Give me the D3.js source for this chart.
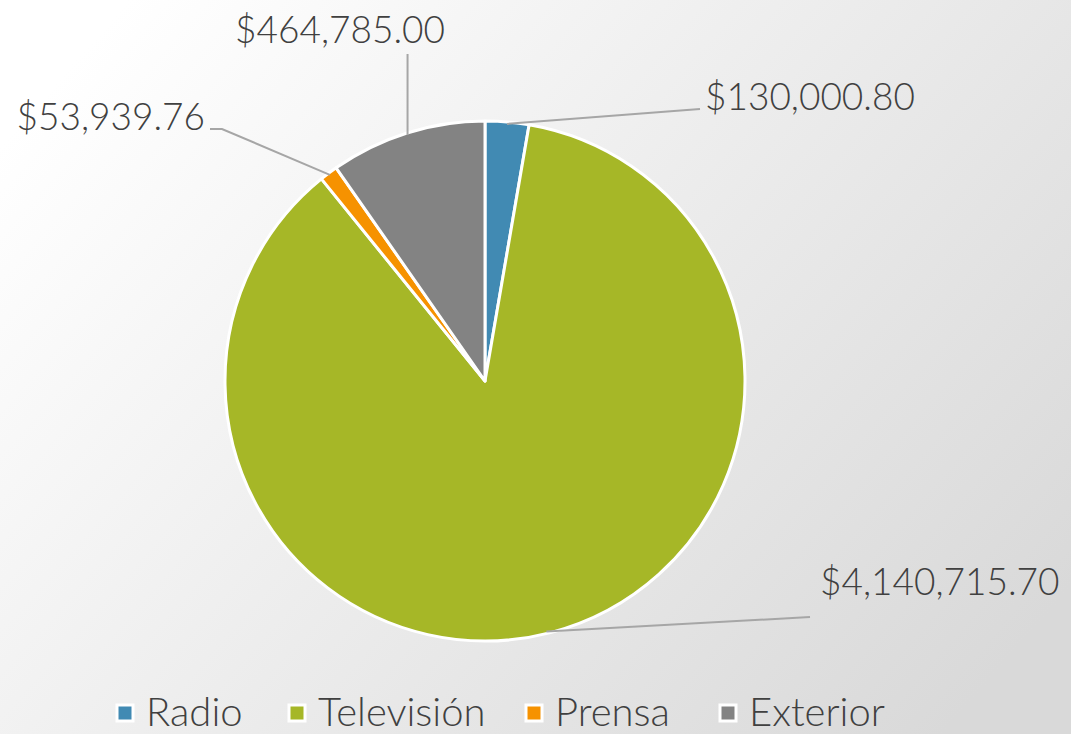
<!DOCTYPE html>
<html>
<head>
<meta charset="utf-8">
<script src="https://cdn.jsdelivr.net/npm/d3@7"></script>
<style>
  html, body { margin: 0; padding: 0; overflow: hidden; }
  body { width: 1071px; height: 734px; }
  text { font-family: "Lato", "Liberation Sans", sans-serif; font-weight: 300; fill: #404040; }
</style>
</head>
<body>
<script>
//data
var categories = ["Radio", "Televisión", "Prensa", "Exterior"];
var values = [130000.80, 4140715.70, 53939.76, 464785.00];
var labels = ["$130,000.80", "$4,140,715.70", "$53,939.76", "$464,785.00"];
var colors = ["#418AB3", "#A6B727", "#F69200", "#838383"];

window.onload = drawChart();

function drawChart(){

    var width = 1071;
    var height = 734;
    var cx = 485, cy = 381, radius = 260;

    var svg = d3.select("body")
        .append("svg")
        .attr("width", width)
        .attr("height", height);

    //background gradient, white on the left to light gray on the right
    var grad = svg.append("defs").append("linearGradient")
        .attr("id", "bg")
        .attr("x1", "0").attr("y1", "0.2")
        .attr("x2", "1").attr("y2", "0.8");
    grad.append("stop").attr("offset", "0").attr("stop-color", "#ffffff");
    grad.append("stop").attr("offset", "1").attr("stop-color", "#d9d9d9");

    svg.append("rect")
        .attr("width", width)
        .attr("height", height)
        .style("fill", "url(#bg)");

    var color = d3.scaleOrdinal()
        .domain(categories)
        .range(colors);

    var pie = d3.pie()
        .sort(null)
        .value(function(d){ return d.value; });

    var data = categories.map(function(c, i){
        return {name: c, value: values[i], label: labels[i]};
    });

    var arcs = pie(data);

    var arc = d3.arc()
        .innerRadius(0)
        .outerRadius(radius);

    var g = svg.append("g")
        .attr("transform", "translate(" + cx + "," + cy + ")");

    g.selectAll(".slice")
        .data(arcs)
        .enter()
        .append("path")
        .attr("class", "slice")
        .attr("d", arc)
        .style("fill", function(d){ return color(d.data.name); })
        .style("stroke", "#ffffff")
        .style("stroke-width", "3px")
        .style("stroke-linejoin", "round");

    //label placement and where each leader line bends
    var labelPos = [
        {x: 705, y: 110, anchor: "start", line: function(p){ return [p, [700, 109]]; }},
        {x: 820, y: 595, anchor: "start", line: function(p){ return [p, [810, 617]]; }},
        {x: 205, y: 130, anchor: "end", line: function(p){ return [p, [222, 129], [210, 129]]; }},
        {x: 445, y: 43, anchor: "end", line: function(p){ return [p, [p[0], 54]]; }}
    ];

    var edgeR = radius - 2;
    function edge(a){
        return [cx + edgeR * Math.sin(a), cy - edgeR * Math.cos(a)];
    }
    //leader lines start at slice middle, television one leaves lower down
    var starts = arcs.map(function(d, i){
        if (i == 1) return edge(Math.PI - 0.24);
        return edge((d.startAngle + d.endAngle) / 2);
    });

    var line = d3.line();

    svg.selectAll(".leader")
        .data(arcs)
        .enter()
        .append("path")
        .attr("class", "leader")
        .attr("d", function(d, i){ return line(labelPos[i].line(starts[i])); })
        .style("fill", "none")
        .style("stroke", "#a6a6a6")
        .style("stroke-width", "2px");

    svg.selectAll(".lbl")
        .data(arcs)
        .enter()
        .append("text")
        .attr("class", "lbl")
        .attr("x", function(d, i){ return labelPos[i].x; })
        .attr("y", function(d, i){ return labelPos[i].y; })
        .attr("text-anchor", function(d, i){ return labelPos[i].anchor; })
        .style("font-size", "37px")
        .text(function(d){ return d.data.label; });

    //legend
    var legendX = [117, 289, 526, 720];
    var legend = svg.selectAll(".legend")
        .data(categories)
        .enter()
        .append("g")
        .attr("class", "legend")
        .attr("transform", function(d, i){ return "translate(" + legendX[i] + ",705)"; });

    legend.append("rect")
        .attr("width", 16)
        .attr("height", 16)
        .style("fill", function(d){ return color(d); })
        .style("stroke", "#ffffff")
        .style("stroke-width", "3px");

    legend.append("text")
        .attr("x", 29)
        .attr("y", 21)
        .style("font-size", "40px")
        .text(function(d){ return d; });
}
</script>
</body>
</html>
